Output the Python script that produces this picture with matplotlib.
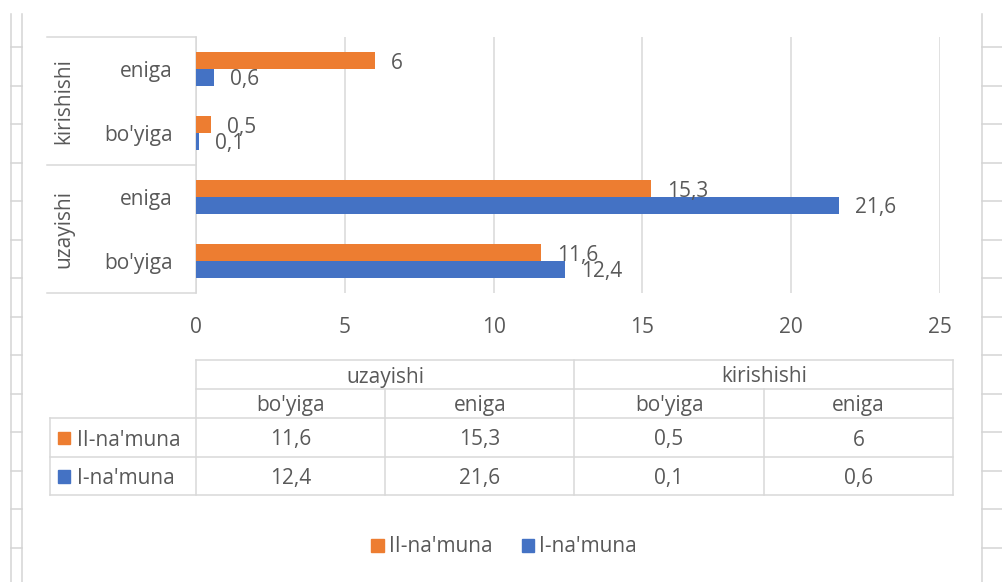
import matplotlib
matplotlib.use('Agg')
import matplotlib.pyplot as plt
import matplotlib.transforms as mtransforms
from matplotlib.patches import Patch, Rectangle
import numpy as np

# ---------------- data ----------------
groups = ["uzayishi", "kirishishi"]
subcats = ["bo'yiga", "eniga"]
series_names = ["II-na'muna", "I-na'muna"]
ii_values = [11.6, 15.3, 0.5, 6]      # II-na'muna: uz-bo'yiga, uz-eniga, kir-bo'yiga, kir-eniga
i_values = [12.4, 21.6, 0.1, 0.6]     # I-na'muna
x_ticks = [0, 5, 10, 15, 20, 25]

# ---------------- style ----------------
ORANGE = '#ED7D31'
BLUE = '#4472C4'
TXT = '#595959'
GRID = '#D9D9D9'
SHEET = '#D4D4D4'
W, H = 1003, 582
FS = 15
plt.rcParams['font.family'] = ['Open Sans', 'DejaVu Sans']


def fmt(v):
    return f"{v:g}".replace('.', ',')


def px_axes(l, t, r, b):
    return [l / W, 1 - b / H, (r - l) / W, (b - t) / H]


fig = plt.figure(figsize=(W / 100, H / 100), dpi=100)

# overlay in pixel coordinates for decorations / data table
ov = fig.add_axes([0, 0, 1, 1])
ov.set_xlim(0, W)
ov.set_ylim(H, 0)
ov.axis('off')

# spreadsheet grid fragments around the chart
row_y = 47 + 38.54 * np.arange(14)
for x in (11.5, 22.5, 982):
    ov.plot([x, x], [14, H], color=SHEET, lw=1.1)
for y in row_y:
    ov.plot([11.5, 22.5], [y, y], color=SHEET, lw=1.1)
    ov.plot([982, W], [y, y], color=SHEET, lw=1.1)

# ---------------- main bar chart ----------------
ax = fig.add_axes(px_axes(196, 37, 940, 293))
n = len(ii_values)
pos = np.arange(n)
bh = 0.258
off = 0.129
ax.barh(pos + off, ii_values, height=bh, color=ORANGE, label=series_names[0], zorder=3)
ax.barh(pos - off, i_values, height=bh, color=BLUE, label=series_names[1], zorder=3)

for p, v in zip(pos, ii_values):
    ax.annotate(fmt(v), (v, p + off), xytext=(11.5, 0), textcoords='offset points',
                ha='left', va='center_baseline', fontsize=FS, color=TXT)
for p, v in zip(pos, i_values):
    ax.annotate(fmt(v), (v, p - off), xytext=(11.5, 0), textcoords='offset points',
                ha='left', va='center_baseline', fontsize=FS, color=TXT)

ax.set_xlim(x_ticks[0], x_ticks[-1])
ax.set_ylim(-0.5, n - 0.5)
ax.set_xticks(x_ticks)
ax.set_xticklabels([str(t) for t in x_ticks])
ax.set_yticks(pos)
ax.set_yticklabels(subcats * len(groups))
ax.tick_params(axis='x', length=0, pad=17, labelsize=FS, labelcolor=TXT)
ax.tick_params(axis='y', length=0, pad=17, labelsize=FS, labelcolor=TXT)
ax.xaxis.grid(True, color=GRID, lw=1.1, zorder=0)
ax.set_axisbelow(True)
for s in ('top', 'right', 'bottom'):
    ax.spines[s].set_visible(False)
ax.spines['left'].set_color(GRID)
ax.spines['left'].set_linewidth(1.1)
ax.patch.set_alpha(0)

# outer category labels and box
blend = mtransforms.blended_transform_factory(ax.transAxes, ax.transData)
box_left = (47 - 196) / 744
for gi, g in enumerate(groups):
    center = gi * len(subcats) + (len(subcats) - 1) / 2
    ax.text(-0.1774, center, g, transform=blend, rotation=90, ha='center',
            va='center', fontsize=FS, color=TXT)
for yb in (0, 0.5, 1):
    ax.plot([box_left, 0], [yb, yb], transform=ax.transAxes, color=GRID,
            lw=1.1, clip_on=False)

# ---------------- data table ----------------
col_edges = np.linspace(196, 953, len(groups) * len(subcats) + 1)
lab_left = 50
r = [360, 389, 418, 457, 495]
lw_t = 1.1
ov.plot([col_edges[0], col_edges[-1]], [r[0], r[0]], color=GRID, lw=lw_t)
ov.plot([col_edges[0], col_edges[-1]], [r[1], r[1]], color=GRID, lw=lw_t)
for y in r[2:]:
    ov.plot([lab_left, col_edges[-1]], [y, y], color=GRID, lw=lw_t)
ov.plot([lab_left, lab_left], [r[2], r[4]], color=GRID, lw=lw_t)
for k, x in enumerate(col_edges):
    top = r[0] if k % len(subcats) == 0 else r[1]
    ov.plot([x, x], [top, r[4]], color=GRID, lw=lw_t)

for gi, g in enumerate(groups):
    cx = (col_edges[gi * 2] + col_edges[gi * 2 + 2]) / 2
    ov.text(cx, (r[0] + r[1]) / 2, g, ha='center', va='center_baseline',
            fontsize=FS, color=TXT)
for k in range(len(col_edges) - 1):
    cx = (col_edges[k] + col_edges[k + 1]) / 2
    ov.text(cx, (r[1] + r[2]) / 2, subcats[k % len(subcats)], ha='center',
            va='center_baseline', fontsize=FS, color=TXT)

for ri, (name, vals, col) in enumerate([(series_names[0], ii_values, ORANGE),
                                         (series_names[1], i_values, BLUE)]):
    cy = (r[2 + ri] + r[3 + ri]) / 2
    ov.add_patch(Rectangle((58, cy - 6), 12.5, 12.5, color=col))
    ov.text(77, cy, name, ha='left', va='center_baseline', fontsize=FS, color=TXT)
    for k, v in enumerate(vals):
        cx = (col_edges[k] + col_edges[k + 1]) / 2
        ov.text(cx, cy, fmt(v), ha='center', va='center_baseline',
                fontsize=FS, color=TXT)

# ---------------- legend ----------------
handles = [Patch(color=ORANGE), Patch(color=BLUE)]
leg = fig.legend(handles, series_names, loc='center', ncol=2,
                 bbox_to_anchor=(504 / W, 1 - 547 / H), frameon=False,
                 fontsize=FS, handlelength=0.6, handleheight=0.6,
                 handletextpad=0.25, columnspacing=1.4, labelcolor=TXT)

fig.savefig('out.png', dpi=100)
